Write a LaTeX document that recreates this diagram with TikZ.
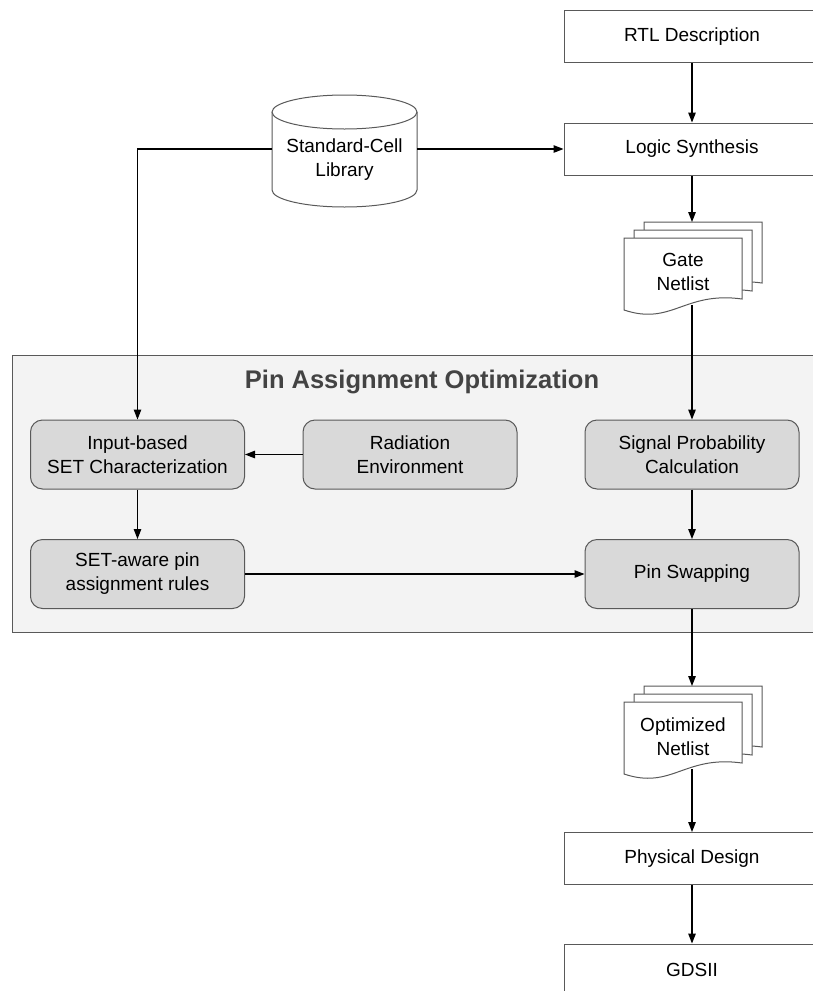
\documentclass[tikz,border=0pt]{standalone}
\usepackage{fontspec}
\setmainfont{Liberation Sans}
\usetikzlibrary{arrows.meta,positioning}
\definecolor{boxline}{HTML}{595959}
\definecolor{boxfill}{HTML}{D9D9D9}
\definecolor{panelfill}{HTML}{F3F3F3}
\definecolor{titlegray}{HTML}{434343}

\begin{document}
\begin{tikzpicture}[
    x=1pt, y=-1pt,
    flow/.style={draw=boxline, fill=white, line width=1pt, minimum width=256pt,
                 minimum height=52pt, font=\fontsize{19}{24}\selectfont},
    stage/.style={draw=boxline, fill=boxfill, line width=1pt, rounded corners=12pt,
                  minimum width=214pt, minimum height=69pt, align=center,
                  font=\fontsize{19}{24}\selectfont},
    doctext/.style={align=center, font=\fontsize{19}{24}\selectfont},
    doc/.style={draw=boxline, fill=white, line width=1pt},
    arr/.style={-{Triangle[length=10pt, width=7.5pt]}, line width=1.3pt},
]
\useasboundingbox (0,0) rectangle (813,991);
\clip (0,0) rectangle (813,991);

% Optimization panel
\draw[draw=boxline, fill=panelfill, line width=1pt] (12,355) rectangle (830,632);
\node[font=\fontsize{25.5}{30}\selectfont\bfseries, text=titlegray] (title) at (422,382) {Pin Assignment Optimization};

% Steps inside the panel
\node[stage] (inchar) at (137.5,454.5) {Input-based\\SET Characterization};
\node[stage] (radenv) at (410,454.5) {Radiation\\Environment};
\node[stage] (sigprob) at (692,454.5) {Signal Probability\\Calculation};
\node[stage] (rules) at (137.5,574) {SET-aware pin\\assignment rules};
\node[stage] (swap) at (692,574) {Pin Swapping};

% Main design flow
\node[flow] (rtl) at (692,36.5) {RTL Description};
\node[flow] (logic) at (692,149) {Logic Synthesis};
\node[flow] (phys) at (692,858.5) {Physical Design};
\node[flow] (gds) at (692,970) {GDSII};

% Standard-cell library (cylinder)
\draw[draw=boxline, fill=white, line width=1pt] (272,112) -- (272,190)
    arc[start angle=180, end angle=0, x radius=72.5, y radius=17] -- (417,112);
\draw[draw=boxline, fill=white, line width=1pt] (344.5,112) ellipse[x radius=72.5, y radius=17];
\node[doctext, minimum width=145pt] (lib) at (344.5,160) {Standard-Cell\\Library};

% Netlist documents (stacked pages)
\foreach \dx/\dy in {20/-16, 10/-8, 0/0} {
    \draw[doc, shift={(624+\dx,238+\dy)}] (0,0) -- (118,0) -- (118,61)
        .. controls (60,53) and (48,88) .. (0,72) -- cycle;
    \draw[doc, shift={(624+\dx,702+\dy)}] (0,0) -- (118,0) -- (118,61)
        .. controls (60,53) and (48,88) .. (0,72) -- cycle;
}
\node[doctext] (gate) at (683,272) {Gate\\Netlist};
\node[doctext] (optnet) at (683,737) {Optimized\\Netlist};
\coordinate (gatein) at (692,222);
\coordinate (gateout) at (692,305);
\coordinate (optin) at (692,686);
\coordinate (optout) at (692,769);

% Connectors
\draw[arr] (rtl) -- (logic);
\draw[arr] ([yshift=11pt]lib.east) -- (logic);
\draw[arr] ([yshift=11pt]lib.west) -| (inchar);
\draw[arr] (logic) -- (gatein);
\draw[arr] (gateout) -- (sigprob);
\draw[arr] (radenv) -- (inchar);
\draw[arr] (inchar) -- (rules);
\draw[arr] (sigprob) -- (swap);
\draw[arr] (rules) -- (swap);
\draw[arr] (swap) -- (optin);
\draw[arr] (optout) -- (phys);
\draw[arr] (phys) -- (gds);
\end{tikzpicture}
\end{document}
